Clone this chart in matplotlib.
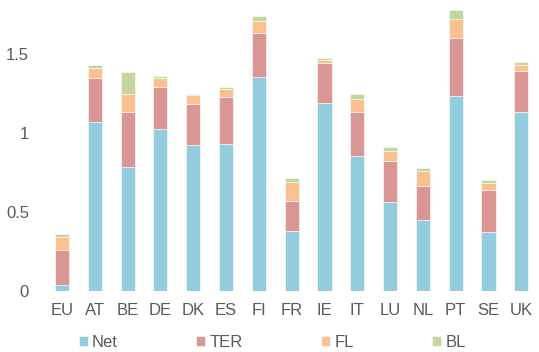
import matplotlib
matplotlib.use("Agg")
import matplotlib.pyplot as plt
import numpy as np

plt.rcParams['font.family'] = ['Liberation Sans', 'DejaVu Sans']

countries = ['EU', 'AT', 'BE', 'DE', 'DK', 'ES', 'FI', 'FR', 'IE', 'IT', 'LU', 'NL', 'PT', 'SE', 'UK']
net = [0.038, 1.07, 0.785, 1.025, 0.924, 0.932, 1.352, 0.382, 1.188, 0.854, 0.565, 0.447, 1.234, 0.373, 1.131]
ter = [0.222, 0.28, 0.345, 0.265, 0.261, 0.298, 0.283, 0.19, 0.255, 0.279, 0.26, 0.22, 0.369, 0.268, 0.259]
fl = [0.08, 0.06, 0.115, 0.056, 0.055, 0.046, 0.072, 0.116, 0.021, 0.084, 0.059, 0.09, 0.12, 0.04, 0.038]
bl = [0.02, 0.02, 0.141, 0.017, 0.005, 0.017, 0.036, 0.025, 0.009, 0.03, 0.027, 0.019, 0.057, 0.019, 0.019]

series = [('Net', net, '#93CDDD'), ('TER', ter, '#D99694'),
          ('FL', fl, '#FAC090'), ('BL', bl, '#C3D69B')]

fig = plt.figure(figsize=(5.39, 3.52), dpi=100)
ax = fig.add_axes([0.0846, 0.1733, 0.913, 0.808])

x = np.arange(len(countries))
bottom = np.zeros(len(countries))
for name, vals, col in series:
    ax.bar(x, vals, 0.43, bottom=bottom, color=col, label=name,
           edgecolor='white', linewidth=0.4)
    bottom += np.array(vals)

ax.set_xlim(-0.5, len(countries) - 0.5)
ax.set_ylim(0, 1.8)
ax.set_yticks([0, 0.5, 1, 1.5])
ax.set_yticklabels(['0', '0.5', '1', '1.5'])
ax.set_xticks(x)
ax.set_xticklabels(countries)
ax.tick_params(axis='both', length=0, labelsize=12, labelcolor='#595959')
ax.tick_params(axis='x', pad=9)
ax.tick_params(axis='y', pad=12)
for s in ax.spines.values():
    s.set_visible(False)

fig.legend(loc='center', bbox_to_anchor=(0.505, 0.028), ncol=4, frameon=False,
           fontsize=12, labelcolor='#595959', handlelength=0.55, handleheight=0.55,
           handletextpad=0.25, columnspacing=4.7, borderpad=0)

fig.savefig('out.png', dpi=100)
